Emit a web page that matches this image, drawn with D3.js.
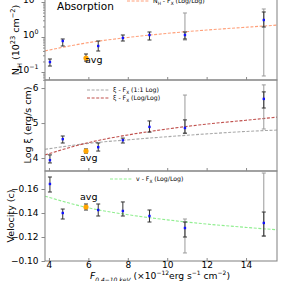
<!DOCTYPE html>
<html>
<head>
<meta charset="utf-8">
<script src="https://cdn.jsdelivr.net/npm/d3@7"></script>
<style>
body { margin: 0; background: #fff; }
text { font-family: "DejaVu Sans", sans-serif; }
</style>
</head>
<body>
<svg id="frame" width="293" height="281"></svg>
<script>
// x value of every observation (F 0.4-10 keV, 1e-12 erg/s/cm2)
const flux = [4.05, 4.7, 6.5, 7.75, 9.1, 10.9, 14.9];
const avgFlux = 5.88;

// column density, 1e23 cm-2
const nh = [0.193, 0.768, 0.553, 0.936, 1.14, 1.14, 3.06];
const nhLo = [0.148, 0.553, 0.398, 0.768, 0.821, 0.877, 1.93];
const nhHi = [0.235, 0.877, 0.768, 1.14, 1.39, 1.39, 5.18];
const nhGreyLo = [null, null, null, null, null, 0.82, 0.077];
const nhGreyHi = [null, null, null, null, null, 4.85, 6.31];
const nhAvg = [0.251, 0.206, 0.327]; // value, lo, hi

// log ionisation
const xi = [3.94, 4.54, 4.31, 4.51, 4.89, 4.86, 5.69];
const xiLo = [3.86, 4.43, 4.20, 4.43, 4.74, 4.71, 5.43];
const xiHi = [4.09, 4.63, 4.43, 4.57, 5.06, 5.09, 5.89];
const xiGreyLo = [null, null, null, null, null, 4.71, 4.83];
const xiGreyHi = [null, null, null, null, null, 5.80, 6.09];
const xiAvg = [4.20, 4.14, 4.26];

// outflow velocity, c
const vel = [-0.1642, -0.140, -0.1425, -0.1417, -0.1375, -0.1275, -0.1317];
const velLo = [-0.170, -0.1433, -0.1475, -0.1492, -0.1425, -0.1325, -0.1408];
const velHi = [-0.1575, -0.135, -0.1375, -0.1375, -0.1325, -0.120, -0.1208];
const velGreyLo = [null, null, null, null, null, -0.135, -0.1733];
const velGreyHi = [null, null, null, null, null, -0.1067, -0.1208];
const velAvg = [-0.145, -0.1475, -0.1425];

// fitted relations
const fitFlux = [3.8, 6, 8, 10, 12, 14, 15.6];
const nhFit = [0.40, 0.69, 0.97, 1.27, 1.58, 1.90, 2.19];
const xiFitLin = [4.25, 4.42, 4.52, 4.61, 4.69, 4.76, 4.80];
const xiFitLog = [4.09, 4.44, 4.66, 4.83, 4.97, 5.08, 5.17];
const velFit = [-0.154, -0.1443, -0.1386, -0.1343, -0.1308, -0.128, -0.126];

// ticks
const xTicks = [4, 6, 8, 10, 12, 14];
const nhTicks = [0.1, 1, 10];
const nhMinor = [0.06, 0.07, 0.08, 0.09, 0.2, 0.3, 0.4, 0.5, 0.6, 0.7, 0.8, 0.9,
                 2, 3, 4, 5, 6, 7, 8, 9, 20];
const xiTicks = [4, 5, 6];
const velTicks = [-0.16, -0.14, -0.12, -0.10];

const svg = d3.select("#frame");
const spine = "#8a8a8a";
const tickFont = 9;

const x = d3.scaleLinear().domain([3.8, 15.57]).range([45, 277]);

// writes text made of pieces: [string, "sub" | "sup" | "" , italic?]
function rich(t, parts, size, small) {
	small = small || 0.7;
	let shift = 0;
	parts.forEach(p => {
		let target = p[1] == "sub" ? 0.3 * size : p[1] == "sup" ? -0.4 * size : 0;
		let ts = t.append("tspan")
			.attr("dy", target - shift)
			.style("font-size", p[1] ? (size * small) + "px" : size + "px")
			.text(p[0]);
		if (p[2]) ts.style("font-style", "italic");
		shift = target;
	});
}

function panel(top, bottom, y, id) {
	let g = svg.append("g");
	svg.append("clipPath").attr("id", id)
		.append("rect").attr("x", 45).attr("y", top).attr("width", 232).attr("height", bottom - top);
	let plot = g.append("g").attr("clip-path", `url(#${id})`);
	g.append("rect")
		.attr("x", 45).attr("y", top).attr("width", 232).attr("height", bottom - top)
		.attr("fill", "none").attr("stroke", spine).attr("stroke-width", 1.1);
	return {g: g, plot: plot, y: y};
}

function errBars(p, lo, hi, colour, xs) {
	let s = p.plot.append("g").attr("stroke", colour).attr("stroke-width", 1);
	xs.forEach((f, i) => {
		if (lo[i] == null) return;
		let cx = x(f), y0 = p.y(lo[i]), y1 = p.y(hi[i]);
		s.append("line").attr("x1", cx).attr("x2", cx).attr("y1", y0).attr("y2", y1);
		s.append("line").attr("x1", cx - 2).attr("x2", cx + 2).attr("y1", y0).attr("y2", y0);
		s.append("line").attr("x1", cx - 2).attr("x2", cx + 2).attr("y1", y1).attr("y2", y1);
	});
}

function points(p, vals, lo, hi, greyLo, greyHi, avg) {
	errBars(p, greyLo, greyHi, "#9a9a9a", flux);
	errBars(p, lo, hi, "#333", flux);
	errBars(p, [avg[1]], [avg[2]], "#333", [avgFlux]);
	p.plot.selectAll("rect.pt").data(vals).join("rect")
		.attr("class", "pt")
		.attr("x", (d, i) => x(flux[i]) - 1.2).attr("y", d => p.y(d) - 1.2)
		.attr("width", 2.4).attr("height", 2.4).attr("fill", "#1010ff");
	p.plot.append("circle")
		.attr("cx", x(avgFlux)).attr("cy", p.y(avg[0])).attr("r", 2.6).attr("fill", "#ffa500");
}

function fitLine(p, vals, colour) {
	let line = d3.line().x((d, i) => x(fitFlux[i])).y(d => p.y(d)).curve(d3.curveMonotoneX);
	p.plot.append("path").datum(vals).attr("d", line)
		.attr("fill", "none").attr("stroke", colour).attr("stroke-width", 1.1)
		.attr("stroke-dasharray", "3,1.6");
}

function styleAxis(a) {
	a.select(".domain").remove();
	a.selectAll("line").attr("stroke", spine);
	a.selectAll("text").attr("fill", "#000").style("font-size", tickFont + "px")
		.style("font-family", '"DejaVu Sans", sans-serif');
}

function legend(p, x0, y0, colour, parts) {
	p.g.append("line").attr("x1", x0).attr("x2", x0 + 23).attr("y1", y0).attr("y2", y0)
		.attr("stroke", colour).attr("stroke-width", 1.1).attr("stroke-dasharray", "3,1.6");
	let t = p.g.append("text").attr("x", x0 + 26).attr("y", y0 + 2.2);
	rich(t, parts, 6.2);
}

// ---- top: column density
let pN = panel(-10, 80, d3.scaleLog().domain([10 ** (-43 / 35), 10 ** (47 / 35)]).range([80, -10]), "c1");
fitLine(pN, nhFit, "#ffa07a");
points(pN, nh, nhLo, nhHi, nhGreyLo, nhGreyHi, nhAvg);
pN.g.append("g").attr("transform", "translate(45,0)")
	.call(d3.axisLeft(pN.y).tickValues(nhMinor).tickSize(2).tickFormat(""))
	.call(styleAxis);
let ay = pN.g.append("g").attr("transform", "translate(45,0)")
	.call(d3.axisLeft(pN.y).tickValues(nhTicks).tickSize(3.5).tickPadding(3))
	.call(styleAxis);
ay.selectAll("text").each(function(d) {
	let t = d3.select(this).text("");
	rich(t, [["10", ""], [String(Math.round(Math.log10(d))).replace("-", "\u2212"), "sup"]], tickFont);
	t.attr("dy", "0.32em");
});
pN.g.append("text").attr("x", 57).attr("y", 10).style("font-size", "10.5px").text("Absorption");
pN.g.append("text").attr("x", 85).attr("y", 63).style("font-size", "9.5px").text("avg");
legend(pN, 127, 1, "#ffa07a", [["N", ""], ["H", "sub"], [" - F", ""], ["X", "sub"], [" (Log/Log)", ""]]);
let ln = pN.g.append("text").attr("transform", "translate(19,40) rotate(-90)").attr("text-anchor", "middle");
rich(ln, [["N", ""], ["H", "sub"], [" (10", ""], ["23", "sup"], [" cm", ""], ["\u22122", "sup"], [")", ""]], 9.5);

// ---- middle: ionisation
let pX = panel(80, 171, d3.scaleLinear().domain([3.63, 6.23]).range([171, 80]), "c2");
fitLine(pX, xiFitLin, "#a8a8a8");
fitLine(pX, xiFitLog, "#c0504d");
points(pX, xi, xiLo, xiHi, xiGreyLo, xiGreyHi, xiAvg);
pX.g.append("g").attr("transform", "translate(45,0)")
	.call(d3.axisLeft(pX.y).tickValues(xiTicks).tickSize(3.5).tickPadding(3).tickFormat(d3.format("d")))
	.call(styleAxis);
pX.g.append("text").attr("x", 80).attr("y", 161).style("font-size", "9.5px").text("avg");
legend(pX, 87, 90, "#a8a8a8", [["\u03be - F", ""], ["X", "sub"], [" (1:1 Log)", ""]]);
legend(pX, 87, 98, "#c0504d", [["\u03be - F", ""], ["X", "sub"], [" (Log/Log)", ""]]);
pX.g.append("text").attr("transform", "translate(31,125) rotate(-90)").attr("text-anchor", "middle")
	.style("font-size", "9.5px").text("Log \u03be (erg/s cm)");

// ---- bottom: velocity
let pV = panel(171, 261, d3.scaleLinear().domain([-0.175, -0.10]).range([171, 261]), "c3");
fitLine(pV, velFit, "#90ee90");
points(pV, vel, velLo, velHi, velGreyLo, velGreyHi, velAvg);
pV.g.append("g").attr("transform", "translate(45,0)")
	.call(d3.axisLeft(pV.y).tickValues(velTicks).tickSize(3.5).tickPadding(3).tickFormat(d3.format(".2f")))
	.call(styleAxis);
pV.g.append("text").attr("x", 80).attr("y", 200).style("font-size", "9.5px").text("avg");
legend(pV, 110, 179, "#90ee90", [["v - F", ""], ["X", "sub"], [" (Log/Log)", ""]]);
pV.g.append("text").attr("transform", "translate(14,216) rotate(-90)").attr("text-anchor", "middle")
	.style("font-size", "9.5px").text("Velocity (c)");

// x axes: short inward ticks on every panel bottom, labels only under the last
[80, 171, 261].forEach(yb => {
	svg.append("g").attr("transform", `translate(0,${yb})`)
		.call(d3.axisTop(x).tickValues(xTicks).tickSize(3).tickFormat(""))
		.call(styleAxis);
});
svg.append("g").attr("transform", "translate(0,261)")
	.call(d3.axisBottom(x).tickValues(xTicks).tickSize(0).tickPadding(1))
	.call(styleAxis);

let xl = svg.append("text").attr("x", 90).attr("y", 279);
rich(xl, [["F", "", true], ["0.4\u221210 keV", "sub", true], [" (\u00d710", ""], ["\u221212", "sup"],
	["erg s", ""], ["\u22121", "sup"], [" cm", ""], ["\u22122", "sup"], [")", ""]], 9.2, 0.65);
</script>
</body>
</html>
